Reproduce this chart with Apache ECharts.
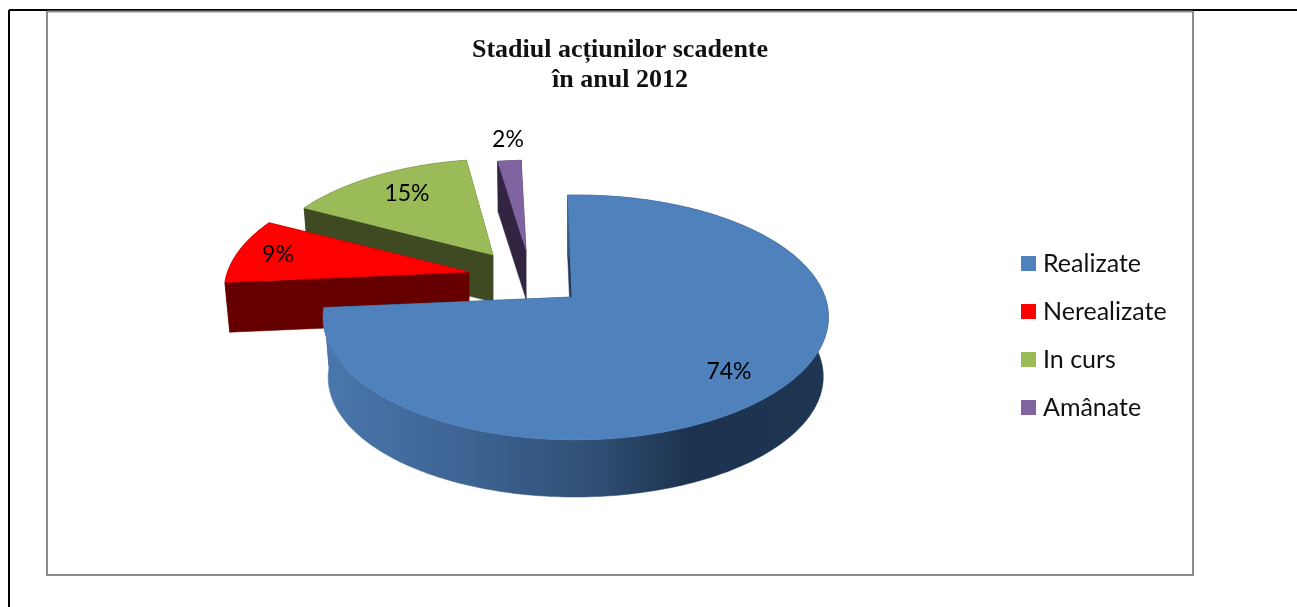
<!DOCTYPE html>
<html>
<head>
<meta charset="utf-8">
<style>html,body{margin:0;padding:0;background:#fff}#c{width:1297px;height:607px}</style>
<script src="https://cdn.jsdelivr.net/npm/echarts@6/dist/echarts.min.js"></script>
</head>
<body>
<div id="c"></div>
<script>
const categories = ['Realizate', 'Nerealizate', 'In curs', 'Amânate'];
const values = [74, 9, 15, 2];
const chartTitle = 'Stadiul acțiunilor scadente\nîn anul 2012';

const colors = ['#4f81bd', '#ff0000', '#9bbb59', '#8064a2'];
const wallColors = ['#1f3a5c', '#660000', '#3f4a22', '#312541'];
const apexX = [572, 469, 493, 526];
const apexY = [297, 272, 255, 250];
const sliceScale = [1, 0.985, 0.94, 0.88];
const sliceSkew = [0.012, 0, 0.04, 0];
const wallDepth = [60, 50, 47, 49];
const labelDX = [157, -191, -86, -18];
const labelDY = [75, -17, -61, -110];
const paintOrder = [4, 3, 2, 1];
const startAngle = -1.5;
const B = 249, A = 119, K = 0.167, M = 0.0158, WALL_SHRINK = 0.98;
const LABEL_FONT = '23px Lato, "Open Sans", sans-serif';

const total = values.reduce((a, b) => a + b, 0);

function angleRange(i) {
  let before = 0;
  for (let j = 0; j < i; j++) before += values[j];
  return [startAngle + before / total * 360, startAngle + (before + values[i]) / total * 360];
}
function project(deg) {
  const t = deg * Math.PI / 180, u = Math.sin(t), v = -Math.cos(t);
  const d = 1 - K * v - M * u;
  return [B * u / d, A * v / d];
}
function topPt(i, p) {
  const s = sliceScale[i];
  return [apexX[i] + p[0] * s - sliceSkew[i] * p[1] * s, apexY[i] + p[1] * s];
}
function bottomPt(i, p) {
  const s = sliceScale[i] * WALL_SHRINK;
  return [apexX[i] + p[0] * s - sliceSkew[i] * p[1] * s, apexY[i] + wallDepth[i] + p[1] * s];
}
function blueWallFill() {
  return new echarts.graphic.LinearGradient(327, 0, 825, 0, [
    { offset: 0, color: '#4a76ab' },
    { offset: 0.3, color: '#3c6291' },
    { offset: 0.55, color: '#2f4e72' },
    { offset: 0.72, color: '#1d3350' },
    { offset: 1, color: '#1e3652' }
  ], true);
}
function renderSlice(i) {
  return function (params, api) {
    const [a0, a1] = angleRange(i);
    const steps = Math.max(8, Math.ceil(a1 - a0));
    const arc = [];
    for (let s = 0; s <= steps; s++) arc.push(project(a0 + (a1 - a0) * s / steps));
    const apex = [0, 0];
    const wallFill = i === 0 ? blueWallFill() : wallColors[i];
    const poly = (pts, fill) => ({ type: 'polygon', shape: { points: pts }, style: { fill: fill, stroke: fill, lineWidth: 0.5 } });
    const first = arc[0], last = arc[arc.length - 1];
    const startFace = [topPt(i, apex), topPt(i, first), bottomPt(i, first), bottomPt(i, apex)];
    const endFace = [topPt(i, apex), topPt(i, last), bottomPt(i, last), bottomPt(i, apex)];
    const outer = arc.map(p => topPt(i, p)).concat(arc.slice().reverse().map(p => bottomPt(i, p)));
    const surface = [topPt(i, apex)].concat(arc.map(p => topPt(i, p)));
    return {
      type: 'group',
      children: [
        poly(startFace, wallColors[i]),
        poly(endFace, wallColors[i]),
        poly(outer, wallFill),
        poly(surface, colors[i]),
        { type: 'text', z2: 10, style: {
          text: api.value(0) + '%', x: apexX[i] + labelDX[i], y: apexY[i] + labelDY[i],
          font: LABEL_FONT, fill: '#000', align: 'center', verticalAlign: 'middle' } }
      ]
    };
  };
}

const chart = echarts.init(document.getElementById('c'), null, { renderer: 'canvas' });
const line = (x1, y1, x2, y2, color, w) => ({ type: 'line', silent: true, z: 0,
  shape: { x1, y1, x2, y2 }, style: { stroke: color, lineWidth: w } });
chart.setOption({
  animation: false,
  backgroundColor: '#fff',
  title: {
    text: chartTitle, left: 615, top: 30, textAlign: 'center',
    textStyle: { fontFamily: '"Liberation Serif", serif', fontWeight: 'bold', fontSize: 26, lineHeight: 30, color: '#111' }
  },
  legend: {
    orient: 'vertical', left: 1021, top: 251, padding: 0, icon: 'rect', itemWidth: 15, itemHeight: 15, itemGap: 23,
    data: categories, selectedMode: false,
    textStyle: { fontFamily: 'Lato, "Open Sans", sans-serif', fontSize: 25, color: '#111', padding: [0, 0, 0, 2] }
  },
  graphic: [
    line(9, 10, 1297, 10, '#000', 2),
    line(9, 10, 9, 607, '#000', 2),
    line(47, 11.5, 1193, 11.5, '#8c8c8c', 2),
    line(47, 11, 47, 576, '#8c8c8c', 2),
    line(1193, 11, 1193, 576, '#8c8c8c', 2),
    line(47, 575, 1193, 575, '#8c8c8c', 2)
  ],
  series: categories.map((name, i) => ({
    type: 'custom', name: name, coordinateSystem: 'none', z: paintOrder[i],
    itemStyle: { color: colors[i] }, silent: true,
    renderItem: renderSlice(i),
    data: [[values[i]]]
  }))
});
</script>
</body>
</html>
